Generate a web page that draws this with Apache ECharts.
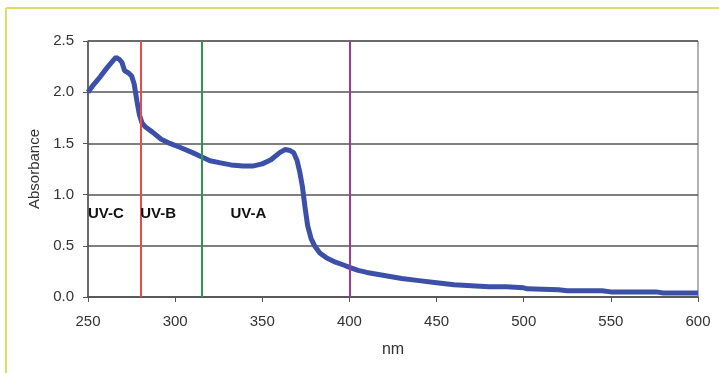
<!DOCTYPE html>
<html><head><meta charset="utf-8">
<script src="https://cdn.jsdelivr.net/npm/echarts@6/dist/echarts.min.js"></script>
<style>html,body{margin:0;padding:0;background:#fff}#c{width:719px;height:373px}</style>
</head><body><div id="c"></div>
<script>
const wavelengths = [250,253,257,261,264,266,268,269.5,271,273,275,276.5,278,279.5,281,283,287,292,297,303,310,315,320,326,332,339,345,350,355,360,363,366,368,370,371.5,373,374.5,376,378,380,383,387,392,397,400,405,410,420,430,440,450,460,470,480,490,500,502,520,525,545,550,576,580,600];
const absorbance = [2.00,2.07,2.15,2.24,2.30,2.34,2.32,2.29,2.21,2.19,2.16,2.08,1.92,1.78,1.70,1.66,1.61,1.54,1.50,1.46,1.41,1.37,1.33,1.31,1.29,1.28,1.28,1.30,1.34,1.41,1.44,1.43,1.41,1.33,1.22,1.08,0.88,0.70,0.57,0.50,0.43,0.38,0.34,0.31,0.29,0.26,0.24,0.21,0.18,0.16,0.14,0.12,0.11,0.10,0.10,0.09,0.08,0.07,0.06,0.06,0.05,0.05,0.04,0.04];
const bandEdges = [280, 315, 400];
const bandColors = ['#f04848', '#2a9a4a', '#9a3a9a'];
const bandLabels = ['UV-C', 'UV-B', 'UV-A'];
const bandLabelX = [250, 280, 342];
const bandLabelY = 0.815;

const chart = echarts.init(document.getElementById('c'));
const font = '"Liberation Sans", Arial, sans-serif';
chart.setOption({
  animation: false,
  graphic: [
    {type:'line', shape:{x1:6,y1:8,x2:719,y2:8}, style:{stroke:'#dede6a', lineWidth:2}},
    {type:'line', shape:{x1:6,y1:8,x2:6,y2:373}, style:{stroke:'#dede6a', lineWidth:2}}
  ],
  grid: {left:88, right:21, top:41, bottom:76, show:true, borderColor:'#666', borderWidth:1},
  xAxis: {
    type:'value', min:250, max:600, interval:50,
    name:'nm', nameLocation:'middle', nameGap:45,
    nameTextStyle:{fontFamily:font, fontSize:16, color:'#333'},
    axisLine:{show:true, onZero:false, lineStyle:{color:'#555', width:1.5}},
    axisTick:{show:true, length:5, lineStyle:{color:'#555'}},
    axisLabel:{fontFamily:font, fontSize:15, color:'#333', margin:17},
    splitLine:{show:false}
  },
  yAxis: {
    type:'value', min:0, max:2.5, interval:0.5,
    name:'Absorbance', nameLocation:'middle', nameGap:46, nameRotate:90,
    nameTextStyle:{fontFamily:font, fontSize:15, color:'#333'},
    axisLine:{show:true, lineStyle:{color:'#555', width:1.5}},
    axisTick:{show:true, length:5, lineStyle:{color:'#555'}},
    axisLabel:{fontFamily:font, fontSize:15, color:'#333', margin:14, formatter:v=>v.toFixed(1)},
    splitLine:{show:true, lineStyle:{color:'#555', width:1.5}}
  },
  series: [{
    type:'line',
    data: wavelengths.map((w,i)=>[w, absorbance[i]]),
    symbol:'none', smooth:false,
    lineStyle:{color:'#3c50a8', width:5},
    z:3,
    markLine: {
      silent:true, symbol:'none', label:{show:false},
      data: bandEdges.map((x,i)=>({xAxis:x, lineStyle:{color:bandColors[i], width:2, type:'solid'}}))
    },
    markPoint: {
      silent:true, symbol:'circle', symbolSize:0,
      data: bandLabels.map((t,i)=>({coord:[bandLabelX[i], bandLabelY], value:t,
        label:{show:true, formatter:t, position: i===2 ? 'inside' : 'right', distance:0,
          fontFamily:font, fontWeight:'bold', fontSize:15, color:'#111'}}))
    }
  }]
});
</script></body></html>
